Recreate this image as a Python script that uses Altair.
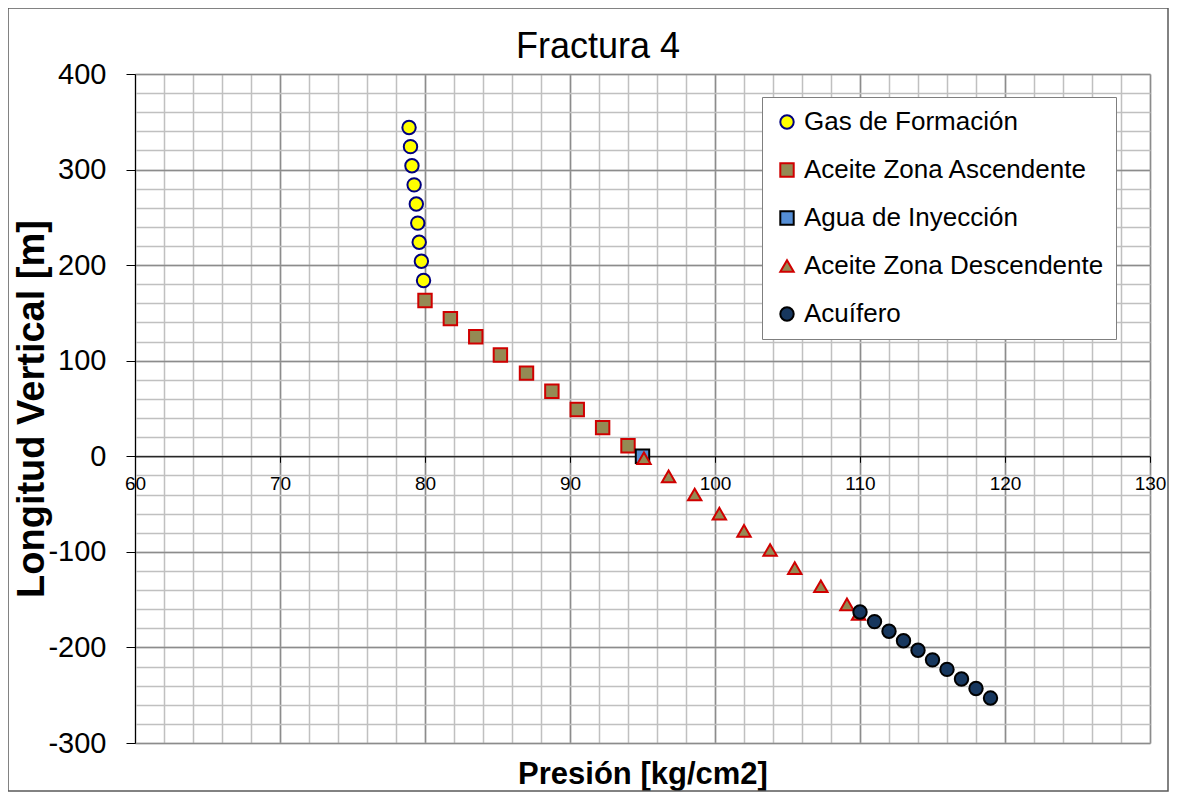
import altair as alt
import pandas as pd

FONT = "Liberation Sans"

chart_title = ["Fractura 4"]

series_names = ["Gas de Formación", "Aceite Zona Ascendente", "Agua de Inyección",
                "Aceite Zona Descendente", "Acuífero"]

gas_x = [78.9, 79.0, 79.1, 79.25, 79.4, 79.5, 79.6, 79.75, 79.9]
gas_y = [344, 324, 304, 284, 264, 244, 224, 204, 184]

asc_x = [80.0, 81.75, 83.5, 85.2, 87.0, 88.75, 90.5, 92.25, 94.0]
asc_y = [163, 144, 125, 106, 87, 68, 49, 30, 11]

agua_x = [95.0]
agua_y = [0]

desc_x = [95.1, 96.8, 98.6, 100.3, 102.0, 103.8, 105.5, 107.3, 109.1, 109.9]
desc_y = [-2, -21, -40, -60, -78, -98, -117, -136, -155, -165]

acu_x = [110, 111, 112, 113, 114, 115, 116, 117, 118, 119]
acu_y = [-163, -173, -183, -193, -203, -213, -223, -233, -243, -253]

shapes = ["circle", "square", "square", "triangle-up", "circle"]
fills = ["#FFFF00", "#948A54", "#558ED5", "#948A54", "#17375E"]
strokes = ["#000080", "#D00000", "#000000", "#D00000", "#000000"]

x_minor = list(range(60, 131, 2))
x_major = list(range(60, 131, 10))
y_minor = list(range(-300, 401, 20))
y_major = list(range(-300, 401, 100))

rows = []
for name, xs_, ys_ in zip(series_names, [gas_x, asc_x, agua_x, desc_x, acu_x],
                          [gas_y, asc_y, agua_y, desc_y, acu_y]):
    for a, b in zip(xs_, ys_):
        rows.append({"serie": name, "p": a, "l": b})
df = pd.DataFrame(rows)

W, H = 1015, 669
y0_px = 400 / 700 * H

xs = alt.Scale(domain=[60, 130], nice=False, zero=False)
ys = alt.Scale(domain=[-300, 400], nice=False, zero=False)

base = alt.Chart(df)

minor = base.mark_point(opacity=0).encode(
    x=alt.X("p:Q", scale=xs, axis=alt.Axis(
        orient="bottom", values=x_minor, grid=True, gridColor="#C0C0C0", gridWidth=1.5,
        labels=False, ticks=False, domain=False, title=None)),
    y=alt.Y("l:Q", scale=ys, axis=alt.Axis(
        orient="left", values=y_minor, grid=True, gridColor="#C0C0C0", gridWidth=1.5,
        labels=False, ticks=False, domain=False, title=None)),
)

major = base.mark_point(opacity=0).encode(
    x=alt.X("p:Q", scale=xs, axis=alt.Axis(
        orient="bottom", values=x_major, grid=True, gridColor="#8C8C8C", gridWidth=1.5,
        labels=False, ticks=False, domain=False,
        title="Presión [kg/cm2]", titleFont=FONT, titleFontSize=31, titleFontWeight="bold",
        titleColor="#000000", titleX=W / 2, titleY=31, titleBaseline="middle",
        titleAlign="center")),
    y=alt.Y("l:Q", scale=ys, axis=alt.Axis(
        orient="left", values=y_major, grid=True, gridColor="#8C8C8C", gridWidth=1.5,
        labels=False, ticks=False, domain=False,
        title="Longitud Vertical [m]", titleFont=FONT, titleFontSize=38, titleFontWeight="bold",
        titleColor="#000000", titleX=-103, titleY=H / 2, titleAngle=270,
        titleBaseline="middle", titleAlign="center")),
)

labels = base.mark_point(opacity=0).encode(
    x=alt.X("p:Q", scale=xs, axis=alt.Axis(
        orient="bottom", values=x_major, offset=-(H - y0_px), grid=False,
        domain=True, domainColor="#000000", domainWidth=1,
        ticks=True, tickSize=6, tickColor="#000000", tickWidth=1,
        labelFont=FONT, labelFontSize=19, labelColor="#000000", labelPadding=12,
        labelFlush=False, labelExpr="'' + datum.value", title=None)),
    y=alt.Y("l:Q", scale=ys, axis=alt.Axis(
        orient="left", values=y_major, grid=False,
        domain=True, domainColor="#000000", domainWidth=1,
        ticks=True, tickSize=9, tickColor="#000000", tickWidth=1,
        labelFont=FONT, labelFontSize=29, labelColor="#000000", labelPadding=20,
        labelExpr="'' + datum.value", title=None)),
)

leg = alt.Legend(title=None, orient="none", legendX=627, legendY=23,
                 fillColor="#FFFFFF", strokeColor="#7F7F7F", padding=12,
                 labelFont=FONT, labelFontSize=26, labelColor="#000000", labelLimit=500,
                 rowPadding=22, symbolSize=180, symbolStrokeWidth=2, labelOffset=4)

pts = base.mark_point(filled=True, size=180, strokeWidth=2, opacity=1).encode(
    x=alt.X("p:Q", scale=xs, axis=None),
    y=alt.Y("l:Q", scale=ys, axis=None),
    shape=alt.Shape("serie:N", scale=alt.Scale(domain=series_names, range=shapes), legend=leg),
    fill=alt.Fill("serie:N", scale=alt.Scale(domain=series_names, range=fills), legend=leg),
    stroke=alt.Stroke("serie:N", scale=alt.Scale(domain=series_names, range=strokes), legend=leg),
)

frame = alt.Chart(pd.DataFrame({"k": [0]})).mark_rect(
    fillOpacity=0, stroke="#595959", strokeWidth=1.5
).encode(x=alt.value(-127), x2=alt.value(1033), y=alt.value(-66), y2=alt.value(717))

title_txt = alt.Chart(pd.DataFrame({"t": chart_title})).mark_text(
    font=FONT, fontSize=36, color="#000000", align="center", baseline="middle"
).encode(text="t:N", x=alt.value(463), y=alt.value(-27))

chart = alt.layer(minor, major, labels, pts, frame, title_txt).resolve_axis(
    x="independent", y="independent"
).properties(
    width=W, height=H,
    padding={"left": 127, "top": 66, "right": 19, "bottom": 49},
    autosize=alt.AutoSizeParams(type="none"),
).configure_view(strokeWidth=0)

chart.save("out.html", embed_options={"renderer": "svg", "actions": False})
